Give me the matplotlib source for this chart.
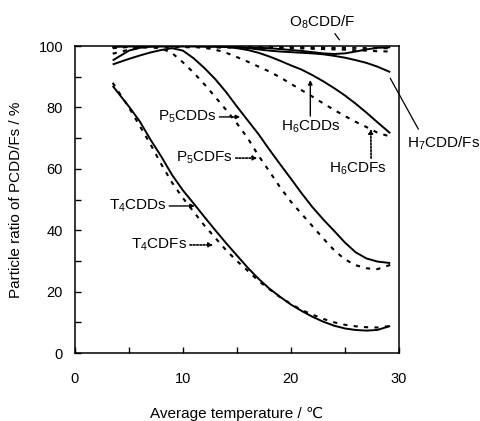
import matplotlib
matplotlib.use("Agg")
import matplotlib.pyplot as plt

plt.rcParams['font.family'] = ['Liberation Sans', 'DejaVu Sans']
plt.rcParams['font.size'] = 11
plt.rcParams['mathtext.default'] = 'regular'

# average temperature (degC) at which each curve was read
temps = [3.5, 5, 6, 7, 8, 9, 10, 11, 12, 13, 14, 15, 16, 17, 18, 19, 20,
         21, 22, 23, 24, 25, 26, 27, 28, 29.2]

t4cdds = [87, 80.3, 75.5, 69.5, 64, 58, 53, 48.7, 44.3, 40, 35.8, 31.8, 27.8,
          24.2, 21, 18.3, 15.8, 13.7, 11.8, 10.2, 8.9, 8, 7.5, 7.3, 7.5, 8.8]
t4cdfs = [88, 80, 74, 68, 61.5, 55.5, 50.5, 46, 41.5, 37.5, 33.5, 30, 26.8,
          23.5, 20.8, 18.2, 16, 14, 12.5, 11.1, 10, 9.2, 8.7, 8.4, 8.3, 8.8]
p5cdds = [94, 95.8, 96.9, 97.9, 98.7, 99.3, 98.5, 96, 92.8, 89.2, 85, 80.3,
          75.8, 71.3, 66.3, 61.5, 56.8, 52, 47.5, 43.5, 39.8, 36, 32.8, 30.8,
          29.8, 29.3]
p5cdfs = [97.5, 98.8, 99.4, 99.6, 99.2, 97.7, 94.7, 91.3, 87.5, 83.4, 79.2,
          74.8, 70, 64.3, 59.2, 54, 49.3, 45.3, 41.3, 37.3, 33.5, 30.5, 28.6,
          27.6, 27.3, 28.7]
h6cdds = [95.3, 98.5, 99.4, 99.8, 100, 100, 100, 100, 99.95, 99.9, 99.7,
          99.3, 98.7, 97.8, 96.6, 95.2, 93.7, 92.3, 90.5, 88.5, 86.3, 83.9,
          81.2, 78.3, 75.2, 71.6]
h6cdfs = [99.3, 99.7, 99.8, 99.9, 99.9, 99.9, 99.85, 99.8, 99.4, 98.8, 97.8,
          96.4, 94.9, 93.3, 91.7, 89.8, 87.7, 85.6, 83.5, 81.3, 79.2, 77.2,
          75.3, 73.6, 71.8, 70.5]
h7cdds = [99.8, 99.9, 99.9, 99.9, 99.9, 99.9, 99.9, 99.9, 99.9, 99.85, 99.8,
          99.7, 99.3, 98.9, 98.5, 98.2, 98, 97.8, 97.6, 97.3, 96.8, 96.2,
          95.4, 94.5, 93.3, 91.5]
h7cdfs = [99.6, 99.7, 99.7, 99.7, 99.7, 99.7, 99.6, 99.6, 99.6, 99.5, 99.5,
          99.5, 99.4, 99.4, 99.3, 99.3, 99.3, 99.2, 99.1, 99, 98.9, 98.8,
          98.6, 98.5, 98.3, 98.2]
o8cdd = [99.8, 99.9, 99.9, 99.9, 99.9, 99.9, 99.9, 99.9, 99.8, 99.8, 99.7,
         99.6, 99.5, 99.4, 99.3, 99, 98.7, 98.4, 98, 97.6, 97.4, 97.6, 98.2,
         98.9, 99.4, 99.6]
o8cdf = [99.9, 99.9, 99.9, 99.9, 99.9, 99.9, 99.9, 99.9, 99.9, 99.8, 99.8,
         99.8, 99.7, 99.7, 99.7, 99.6, 99.6, 99.6, 99.5, 99.5, 99.4, 99.4,
         99.4, 99.3, 99.3, 99.3]

solid_series = [t4cdds, p5cdds, h6cdds, h7cdds, o8cdd]
dotted_series = [t4cdfs, p5cdfs, h6cdfs, h7cdfs, o8cdf]

fig = plt.figure(figsize=(4.8, 4.21), dpi=100)
ax = fig.add_axes([0.156, 0.1615, 0.675, 0.7292])

for s in solid_series:
    ax.plot(temps, s, color='black', lw=1.4, solid_capstyle='butt')
for s in dotted_series:
    ax.plot(temps, s, color='black', lw=1.5, linestyle=(0, (2, 3)))

ax.set_xlim(0, 30)
ax.set_ylim(0, 100)
ax.set_xticks([0, 5, 10, 15, 20, 25, 30])
ax.set_xticklabels(['0', '', '10', '', '20', '', '30'])
ax.set_yticks(range(0, 101, 10))
ax.set_yticklabels([str(v) if v % 20 == 0 else '' for v in range(0, 101, 10)])
ax.tick_params(axis='x', direction='in', length=4, width=1, pad=14, labelsize=10.5)
ax.tick_params(axis='y', direction='in', length=4, width=1, pad=8.5, labelsize=10.5)
for sp in ax.spines.values():
    sp.set_linewidth(1.1)

ax.set_xlabel('Average temperature / \u2103', labelpad=15)
ax.set_ylabel('Particle ratio of PCDD/Fs / %', labelpad=11)

solid_arrow = dict(arrowstyle='-|>', color='black', lw=1, mutation_scale=6,
                   shrinkA=0, shrinkB=0)
dot_arrow = dict(arrowstyle='-|>', color='black', lw=1.2, mutation_scale=6,
                 linestyle=(0, (1, 1)), shrinkA=0, shrinkB=0)

ax.annotate('P$_5$CDDs', xy=(15.3, 76.9), xytext=(10.4, 76.9),
            ha='center', va='center', arrowprops=solid_arrow)
ax.annotate('P$_5$CDFs', xy=(16.9, 63.5), xytext=(12.0, 63.5),
            ha='center', va='center', arrowprops=dot_arrow)
ax.annotate('T$_4$CDDs', xy=(11.1, 47.9), xytext=(5.8, 47.9),
            ha='center', va='center', arrowprops=solid_arrow)
ax.annotate('T$_4$CDFs', xy=(12.8, 35.2), xytext=(7.8, 35.2),
            ha='center', va='center', arrowprops=dot_arrow)
ax.annotate('H$_6$CDDs', xy=(21.8, 88.9), xytext=(21.8, 73.6),
            ha='center', va='center', arrowprops=solid_arrow)
ax.annotate('H$_6$CDFs', xy=(27.4, 73.0), xytext=(26.25, 59.9),
            ha='center', va='center',
            arrowprops=dict(dot_arrow, relpos=(0.72, 1.0)))
ax.annotate('H$_7$CDD/Fs', xy=(29.2, 89.5), xytext=(34.1, 68.4),
            ha='center', va='center', annotation_clip=False,
            arrowprops=dict(arrowstyle='-', color='black', lw=0.9,
                            relpos=(0.2, 1.0), shrinkA=2, shrinkB=0))
ax.annotate('O$_8$CDD/F', xy=(24.5, 102), xytext=(22.9, 107.8),
            ha='center', va='center', annotation_clip=False,
            arrowprops=dict(arrowstyle='-', color='black', lw=0.9,
                            relpos=(0.66, 0.0), shrinkA=0, shrinkB=0))

fig.savefig('out.png', dpi=100)
